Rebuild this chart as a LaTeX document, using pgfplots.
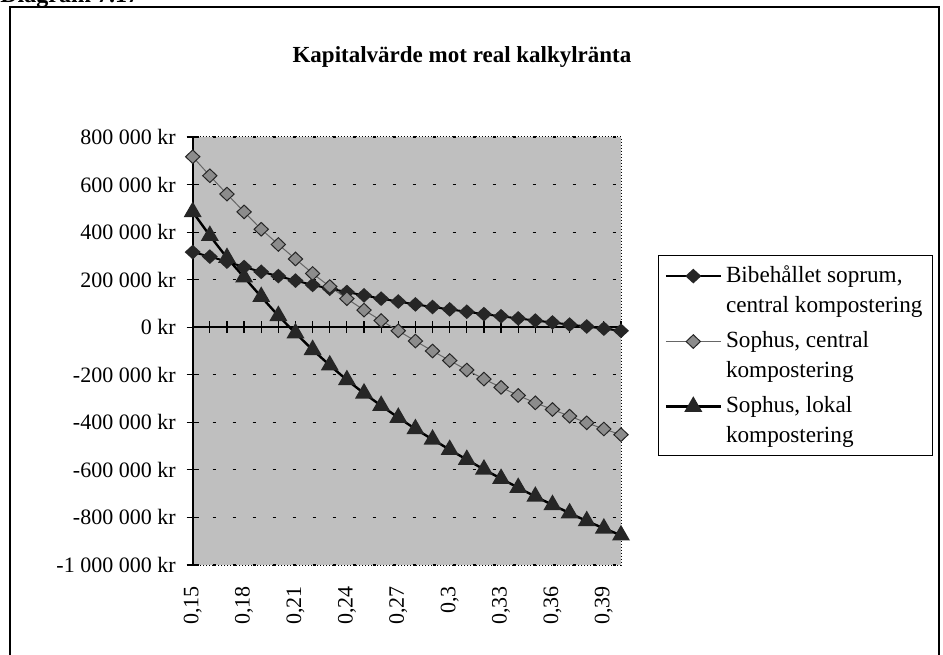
\documentclass[border=0pt]{standalone}
\usepackage{fontspec}
\setmainfont{Liberation Serif}
\usepackage{pgfplots}
\pgfplotsset{compat=1.18}
\usepackage{pgfplotstable}

\pgfplotstableread{
x a b c
0.15 316000 717000 485000
0.16 297000 637000 385000
0.17 276000 560000 292000
0.18 253000 485000 210000
0.19 233000 412000 128000
0.20 215000 348000 48000
0.21 196000 287000 -25000
0.22 178000 226000 -95000
0.23 162000 171000 -160000
0.24 148000 120000 -222000
0.25 134000 72000 -278000
0.26 120000 28000 -330000
0.27 108000 -15000 -380000
0.28 96000 -58000 -428000
0.29 85000 -100000 -472000
0.30 75000 -140000 -515000
0.31 65000 -180000 -557000
0.32 55000 -218000 -598000
0.33 46000 -253000 -637000
0.34 37000 -287000 -675000
0.35 28000 -318000 -712000
0.36 20000 -346000 -747000
0.37 11000 -374000 -782000
0.38 3000 -402000 -815000
0.39 -6000 -428000 -846000
0.40 -15000 -452000 -875000
}\data

\begin{document}
\begin{tikzpicture}
\useasboundingbox (0,0) rectangle (471.5pt,327pt);
\fill[white] (0,0) rectangle (471.5pt,327pt);
\node[anchor=base west, font=\bfseries\fontsize{12}{14}\selectfont, inner sep=0pt] at (0pt,325.5pt) {Diagram 7.17};
\draw[line width=0.6pt] (5pt,-5pt) -- (5pt,323.5pt) -- (469.5pt,323.5pt) -- (469.5pt,-5pt);
\node[font=\bfseries\fontsize{11.5}{14}\selectfont] at (231pt,298.5pt) {Kapitalvärde mot real kalkylränta};

% background, grid, labels
\begin{axis}[
  at={(96.35pt,44.5pt)}, anchor=south west, scale only axis,
  width=214.15pt, height=214pt,
  xmin=0.15, xmax=0.40, ymin=-1000000, ymax=800000,
  axis background/.style={fill=black!25},
  axis line style={black, line width=0.5pt, densely dotted},
  xtick={0.15,0.18,0.21,0.24,0.27,0.30,0.33,0.36,0.39},
  xticklabels={{0,15},{0,18},{0,21},{0,24},{0,27},{0,3},{0,33},{0,36},{0,39}},
  ytick={-1000000,-800000,-600000,-400000,-200000,0,200000,400000,600000,800000},
  yticklabels={-1 000 000 kr,-800 000 kr,-600 000 kr,-400 000 kr,-200 000 kr,0 kr,200 000 kr,400 000 kr,600 000 kr,800 000 kr},
  scaled y ticks=false,
  major tick length=0pt,
  ymajorgrids,
  major grid style={black, line width=0.6pt, dash pattern=on 1.5pt off 8.5pt},
  xticklabel style={yshift=-7pt, rotate=90, anchor=east, font=\fontsize{11}{13}\selectfont},
  yticklabel style={xshift=-5pt, font=\fontsize{11}{13}\selectfont},
]
\end{axis}

% axis lines with ticks, data, legend
\begin{axis}[
  at={(96.35pt,44.5pt)}, anchor=south west, scale only axis,
  width=214.15pt, height=214pt,
  xmin=0.15, xmax=0.40, ymin=-1000000, ymax=800000,
  axis x line=middle, axis y line=left,
  x axis line style={-, line width=0.8pt},
  y axis line style={-, line width=0.8pt},
  xtick={0.15,0.16,0.17,0.18,0.19,0.20,0.21,0.22,0.23,0.24,0.25,0.26,0.27,0.28,0.29,0.30,0.31,0.32,0.33,0.34,0.35,0.36,0.37,0.38,0.39,0.40},
  xticklabels={},
  ytick={-1000000,-800000,-600000,-400000,-200000,0,200000,400000,600000,800000},
  yticklabels={},
  scaled y ticks=false,
  tick align=center, major tick length=6pt,
  tick style={black, line width=0.6pt},
  clip=false,
  legend style={at={(1.0864,0.7243)}, anchor=north west, draw=black, line width=0.6pt,
    fill=white, font=\fontsize{11.6}{15}\selectfont,
    cells={align=left, anchor=west}, row sep=4pt, inner xsep=3pt, inner ysep=3pt},
  legend image code/.code={\draw[mark repeat=2, mark phase=2, #1, yshift=7.2pt] plot coordinates {(0pt,0pt)(13.75pt,0pt)(27.5pt,0pt)};},
]
\addplot[black, line width=1pt, mark=diamond*, mark size=3pt,
  mark options={solid, fill=black!85, draw=black!85, xscale=1.45}] table[x=x,y=a] {\data};
\addlegendentry{Bibehållet soprum,\\central kompostering}
\addplot[black!60, line width=0.5pt, mark=diamond*, mark size=3.4pt,
  mark options={solid, fill=black!45, draw=black!85, xscale=1.4}] table[x=x,y=b] {\data};
\addlegendentry{Sophus, central\\kompostering}
\addplot[black, line width=1.2pt, mark=triangle*, mark size=4pt,
  mark options={solid, fill=black!85, draw=black!85}] table[x=x,y=c] {\data};
\addlegendentry{Sophus, lokal\\kompostering}
\end{axis}
\end{tikzpicture}
\end{document}
